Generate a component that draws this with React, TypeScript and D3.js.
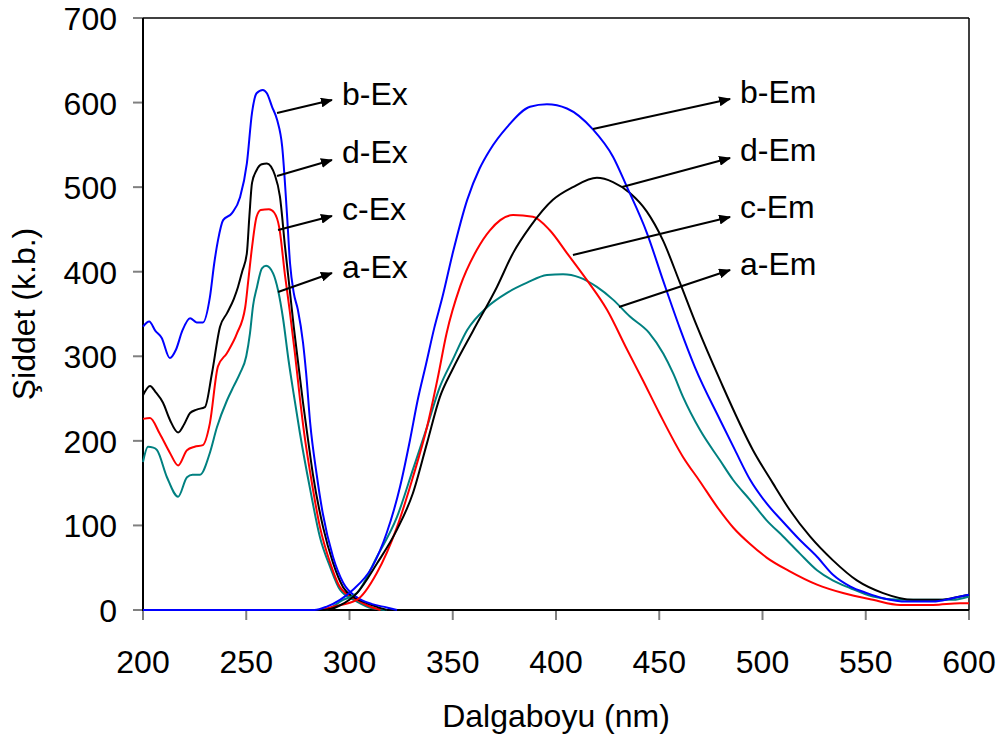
import React from 'react';
import * as d3 from 'd3';

const xTicks = [200, 250, 300, 350, 400, 450, 500, 550, 600];
const yTicks = [0, 100, 200, 300, 400, 500, 600, 700];

// Excitation spectra [wavelength nm, intensity]
const aEx: [number, number][] = [
  [200,175],[202.4,193],[205,192],[206.8,189],[211.6,157],[217,134],[221.3,157],[224,160],[227.6,160],[232.4,186],[235.8,216],[240.7,248],[244,265],[247,280],[250,300],[251.8,327],[253.3,360],[255.2,382],[257.6,404],[259.6,407],[263,398],[265.4,378],[267.8,345],[270.5,295],[273,255],[276,209],[281,142],[285.7,86],[290.6,51],[295.4,24],[303.6,10],[311,2],[318,0],
];
const cEx: [number, number][] = [
  [200,226],[203.4,227],[208,209],[213,186],[217,171],[221.3,189],[225,193],[229,195],[232.4,221],[236.3,288],[240.7,304],[245.5,327],[249.5,358],[251,390],[252.8,429],[255,465],[257,473],[261,474],[263.5,470],[266,452],[268.8,395],[271,355],[273.5,305],[276,250],[278,210],[281,162],[285.7,98],[290.6,56],[295.4,27],[303.6,12],[309,5],[315,0],
];
const dEx: [number, number][] = [
  [200,254],[203.4,265],[206,258],[209.7,245],[213,225],[217,210],[220,220],[222.8,233],[226,237],[230,240],[233.4,280],[237.3,335],[240.7,351],[244,368],[246,382],[248,400],[250.3,422],[251.5,465],[252.8,505],[255,520],[257.5,527],[260,528],[263.9,514],[266.3,489],[268.8,429],[271,380],[273,335],[275,295],[277.5,245],[280,200],[282.3,160],[287.2,98],[292,56],[296.9,27],[302,15],[308.5,8],[313,4],[318,0],
];
const bEx: [number, number][] = [
  [200,335],[203,341],[206,330],[209,322],[213,298],[216,308],[219,330],[222.8,345],[226,340],[229,340],[232.4,370],[234.5,410],[236.3,437],[238.8,461],[243,469],[247,488],[250.3,528],[252.8,588],[255,611],[258,615],[260,611],[262.5,595],[265,579],[267.4,548],[269.7,469],[271.2,410],[273,375],[275,355],[277.5,316],[279,280],[281,220],[284,162],[287,115],[292,63],[297,32],[303.6,15],[311,7],[318,3],[323,0],
];

// Emission spectra
const aEm: [number, number][] = [
  [200,0],[288,0],[296.9,12],[303.6,20],[313.3,63],[323,110],[330.7,166],[337.5,216],[343.8,264],[350,296],[357,331],[366.6,358],[376.3,375],[386,387],[395.6,396],[403.4,397],[411.6,393],[419.8,382],[427.6,367],[435.8,347],[445,328],[452,303],[456.7,280],[461.5,252],[469.7,213],[479.4,177],[485.7,154],[494,130],[502,106],[510,87],[518,67],[526.4,47],[534,35],[542.4,26],[553.5,16],[566.6,12],[582.6,12],[592,12],[600,16],
];
const cEm: [number, number][] = [
  [200,0],[285,0],[292,4],[303.6,12],[313.3,44],[323,98],[330.7,157],[337.5,216],[342.7,274],[347,327],[353.5,382],[361.7,426],[368,449],[379.2,467],[388.8,465],[397,449],[405.3,422],[415,390],[424.7,355],[434.4,308],[442,272],[450,233],[461.5,181],[469.7,152],[478,122],[486,97],[494,78],[502,62],[513,46],[526.4,30],[539,20],[553.5,12],[566.6,6],[582.6,6],[595.6,8],[600,8],
];
const dEm: [number, number][] = [
  [200,0],[288,0],[295,5],[303.6,20],[313.3,55],[323,95],[330.7,138],[337.5,197],[343.8,252],[350,285],[359.8,330],[371.4,382],[379.2,422],[387.4,453],[398.5,485],[408.2,500],[419.8,511],[427.6,506],[435.8,493],[444,471],[451.8,437],[460,387],[468,337],[479.4,272],[495.4,189],[505,150],[513.3,118],[523,87],[534,59],[545.7,35],[558.4,20],[573,12],[586,12],[595.7,16],[600,18],
];
const bEm: [number, number][] = [
  [200,0],[283,0],[289,4],[295.4,12],[301.7,24],[311,51],[318,91],[324.5,146],[329.3,201],[333,248],[337,290],[341,333],[345,370],[350,422],[357,485],[363,522],[368,544],[376.3,571],[387.4,595],[395.6,598],[405.3,593],[418,568],[427.6,536],[434.4,500],[444,446],[451.8,390],[460,333],[467.3,287],[479.4,225],[486.7,189],[494,154],[502,126],[510,104],[518,83],[526.4,63],[534,42],[542.4,28],[550.6,20],[558.4,14],[570,10],[582.6,10],[592,14],[600,18],
];

const seriesData = [aEx, cEx, dEx, bEx, aEm, cEm, dEm, bEm];
const seriesColors = ['#008080', '#FF0000', '#000000', '#0000FF', '#008080', '#FF0000', '#000000', '#0000FF'];

// Annotations: label, arrow start [wl, I], arrow end [wl, I], label anchor [wl, I]
const annLabels = ['b-Ex', 'd-Ex', 'c-Ex', 'a-Ex', 'b-Em', 'd-Em', 'c-Em', 'a-Em'];
const annFrom: [number, number][] = [
  [264.9, 587.7], [264.9, 513.2], [265.4, 449.3], [265.4, 376],
  [417.9, 568.8], [432.0, 500.2], [408.2, 419.8], [430.5, 358.3],
];
const annTo: [number, number][] = [
  [291.5, 603], [291.5, 532.1], [291.5, 465.9], [291.5, 398.5],
  [484.3, 604.2], [484.3, 534.5], [484.3, 464.7], [484.3, 402],
];
const annText: [number, number][] = [
  [296.4, 597], [296.4, 528.6], [296.4, 461.5], [296.4, 392.6],
  [489.1, 599.5], [489.1, 530.9], [489.1, 463.5], [489.1, 396.1],
];

const W = 1002;
const H = 745;
const FONT = '"Liberation Sans", Arial, Helvetica, sans-serif';

export default function App() {
  const x = d3.scaleLinear().domain([200, 600]).range([143, 969]);
  const y = d3.scaleLinear().domain([0, 700]).range([610, 18]);
  const line = d3
    .line<[number, number]>()
    .x((d) => x(d[0]))
    .y((d) => y(d[1]))
    .curve(d3.curveMonotoneX);

  return (
    <svg
      width={W}
      height={H}
      style={{ position: 'absolute', left: 0, top: 0, background: '#fff' }}
      fontFamily={FONT}
    >
      <defs>
        <marker id="ah" viewBox="0 0 12 10" refX="11" refY="5" markerWidth="12" markerHeight="10" markerUnits="userSpaceOnUse" orient="auto">
          <path d="M0,0 L12,5 L0,10 z" fill="#000" />
        </marker>
      </defs>
      <rect x={0} y={0} width={W} height={H} fill="#fff" />
      {/* plot frame */}
      <line x1={x(200)} x2={x(600)} y1={y(700)} y2={y(700)} stroke="#000" strokeWidth={1.5} />
      <line x1={x(600)} x2={x(600)} y1={y(0)} y2={y(700)} stroke="#000" strokeWidth={1.5} />
      {/* ticks */}
      {yTicks.map((t) => (
        <g key={'y' + t}>
          <line x1={x(200) - 10} x2={x(200)} y1={y(t)} y2={y(t)} stroke="#808080" strokeWidth={2} />
          <text x={117} y={y(t) + 12} textAnchor="end" fontSize={32} fill="#000">
            {t}
          </text>
        </g>
      ))}
      {xTicks.map((t) => (
        <g key={'x' + t}>
          <line x1={x(t)} x2={x(t)} y1={y(0)} y2={y(0) + 10} stroke="#808080" strokeWidth={2} />
          <text x={x(t)} y={673} textAnchor="middle" fontSize={32} fill="#000">
            {t}
          </text>
        </g>
      ))}
      {/* axes */}
      <line x1={x(200)} x2={x(200)} y1={y(0) + 1} y2={y(700)} stroke="#000" strokeWidth={2} />
      <line x1={x(200)} x2={x(600)} y1={y(0)} y2={y(0)} stroke="#000" strokeWidth={2} />
      {/* series */}
      {seriesData.map((s, i) => (
        <path
          key={'s' + i}
          d={line(s) || ''}
          fill="none"
          stroke={seriesColors[i]}
          strokeWidth={2}
          strokeLinejoin="round"
        />
      ))}
      {/* annotations */}
      {annLabels.map((lab, i) => (
        <g key={'a' + i}>
          <line
            x1={x(annFrom[i][0])}
            y1={y(annFrom[i][1])}
            x2={x(annTo[i][0])}
            y2={y(annTo[i][1])}
            stroke="#000"
            strokeWidth={2}
            markerEnd="url(#ah)"
          />
          <text x={x(annText[i][0])} y={y(annText[i][1])} fontSize={32} fill="#000">
            {lab}
          </text>
        </g>
      ))}
      {/* axis titles */}
      <text x={(x(200) + x(600)) / 2} y={727} textAnchor="middle" fontSize={32} fill="#000">
        Dalgaboyu (nm)
      </text>
      <text
        transform={`translate(35, ${(y(0) + y(700)) / 2}) rotate(-90)`}
        textAnchor="middle"
        fontSize={32}
        fill="#000"
      >
        Şiddet (k.b.)
      </text>
    </svg>
  );
}
